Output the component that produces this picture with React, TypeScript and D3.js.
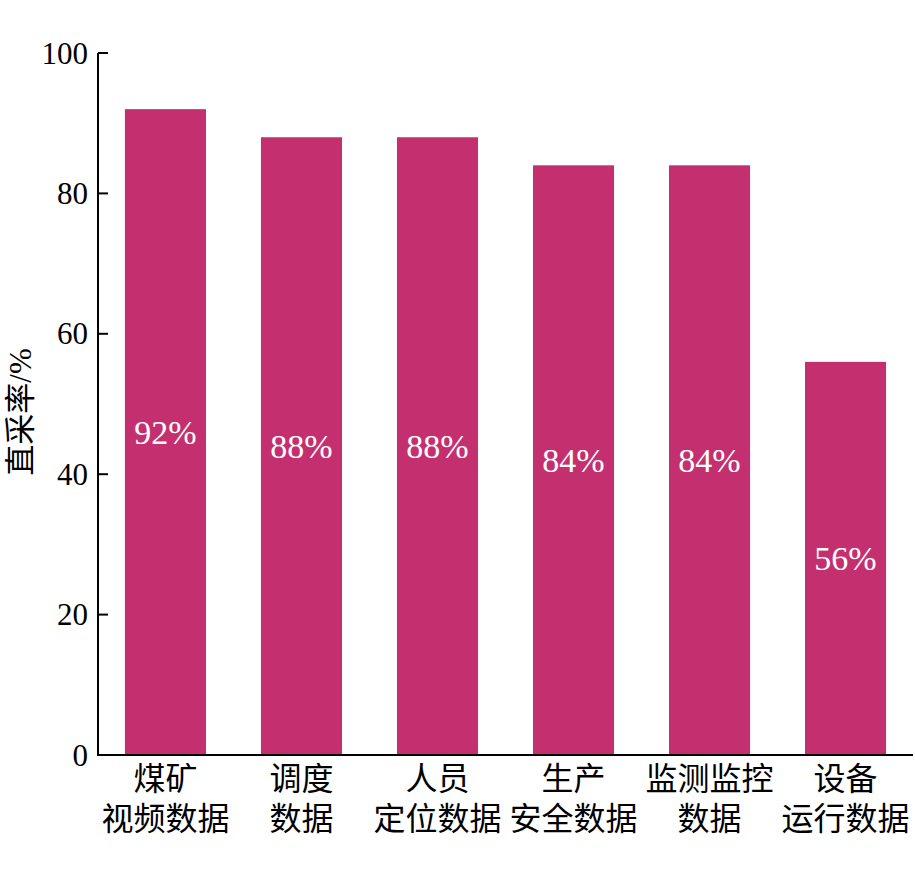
import React from "react";
import * as d3 from "d3";

const categories: string[][] = [
  ["煤矿", "视频数据"],
  ["调度", "数据"],
  ["人员", "定位数据"],
  ["生产", "安全数据"],
  ["监测监控", "数据"],
  ["设备", "运行数据"],
];
const values: number[] = [92, 88, 88, 84, 84, 56];
const yTicks: number[] = [0, 20, 40, 60, 80, 100];
const yTitle = "直采率/%";

const W = 915;
const H = 871;
const left = 98;
const right = 913;
const top = 53;
const bottom = 755;
const barColor = "#C4306F";
const font = "'Liberation Serif', 'Times New Roman', 'Noto Sans CJK SC', serif";

export default function App() {
  const ids = categories.map((_, i) => String(i));
  const x = d3
    .scaleBand<string>()
    .domain(ids)
    .range([left, right])
    .paddingInner(0.404)
    .paddingOuter(0.198);
  const y = d3.scaleLinear().domain([0, 100]).range([bottom, top]);

  return (
    <svg
      width={W}
      height={H}
      style={{ position: "absolute", left: 0, top: 0, background: "#fff" }}
      fontFamily={font}
    >
      <rect x={0} y={0} width={W} height={H} fill="#fff" />
      {values.map((v, i) => (
        <g key={i}>
          <rect
            x={x(ids[i])!}
            y={y(v)}
            width={x.bandwidth()}
            height={y(0) - y(v)}
            fill={barColor}
          />
          <text
            x={x(ids[i])! + x.bandwidth() / 2}
            y={(y(v) + y(0)) / 2}
            dominantBaseline="central"
            textAnchor="middle"
            fill="#fff"
            fontSize={34}
          >
            {v + "%"}
          </text>
        </g>
      ))}
      <line x1={left} x2={left} y1={top} y2={bottom} stroke="#000" strokeWidth={2} />
      <line x1={left - 1} x2={right} y1={bottom} y2={bottom} stroke="#000" strokeWidth={2} />
      {yTicks.map((t) => (
        <g key={t}>
          <line x1={left} x2={left + 10} y1={y(t)} y2={y(t)} stroke="#000" strokeWidth={2} />
          <text
            x={left - 10}
            y={y(t)}
            dominantBaseline="central"
            textAnchor="end"
            fontSize={31}
            fill="#000"
          >
            {t}
          </text>
        </g>
      ))}
      {categories.map((lines, i) => (
        <g key={i}>
          {lines.map((ln, j) => (
            <text
              key={j}
              x={x(ids[i])! + x.bandwidth() / 2}
              y={779 + j * 40}
              dominantBaseline="central"
              textAnchor="middle"
              fontSize={32}
              fill="#000"
            >
              {ln}
            </text>
          ))}
        </g>
      ))}
      <text
        transform={`translate(20, ${(top + bottom) / 2 + 8}) rotate(-90)`}
        dominantBaseline="central"
        textAnchor="middle"
        fontSize={31}
        fill="#000"
      >
        {yTitle}
      </text>
    </svg>
  );
}
